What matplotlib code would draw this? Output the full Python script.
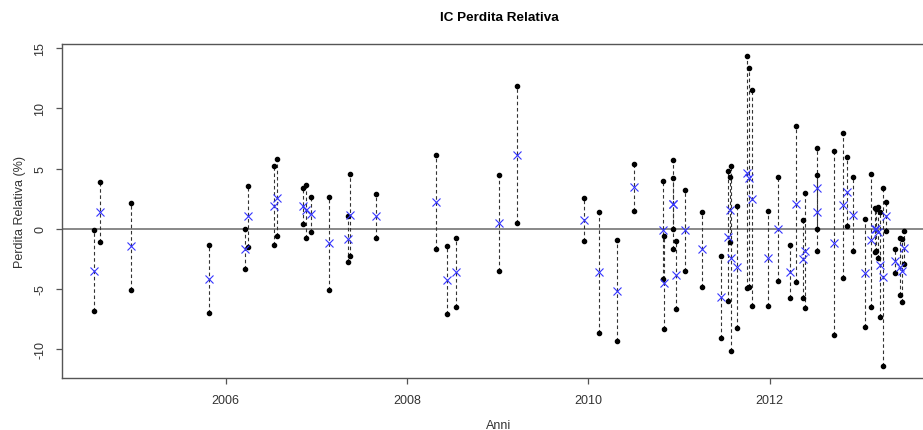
import numpy as np
import matplotlib
matplotlib.use("Agg")
import matplotlib.pyplot as plt

plt.rcParams['font.family'] = ['Liberation Sans', 'DejaVu Sans']

# decimal year of each interval
anni = [2004.55, 2004.61, 2004.95, 2005.81, 2006.21, 2006.25, 2006.53, 2006.57,
        2006.85, 2006.89, 2006.94, 2007.14, 2007.35, 2007.37, 2007.66, 2008.32,
        2008.44, 2008.54, 2009.01, 2009.21, 2009.95, 2010.12, 2010.32, 2010.51,
        2010.82, 2010.84, 2010.93, 2010.935, 2010.97, 2011.07, 2011.25, 2011.47,
        2011.54, 2011.56, 2011.58, 2011.64, 2011.75, 2011.77, 2011.81, 2011.98,
        2012.09, 2012.23, 2012.29, 2012.37, 2012.39, 2012.52, 2012.525, 2012.71,
        2012.81, 2012.85, 2012.92, 2013.05, 2013.12, 2013.16, 2013.17, 2013.20,
        2013.22, 2013.25, 2013.29, 2013.38, 2013.44, 2013.46, 2013.48]

# lower / upper bound of the interval (%)
inf = [-6.83, -1.06, -5.06, -7.00, -3.31, -1.50, -1.39, -0.58,
       0.36, -0.80, -0.30, -5.06, -2.78, -2.25, -0.80, -1.67,
       -7.11, -6.47, -3.50, 0.50, -1.03, -8.64, -9.33, 1.47,
       -4.19, -8.36, -1.67, -0.06, -6.67, -3.50, -4.83, -9.08,
       -6.00, -1.14, -10.19, -8.28, -4.94, -4.83, -6.39, -6.39,
       -4.36, -5.75, -4.42, -5.72, -6.58, 0.00, -1.83, -8.81,
       -4.08, 0.19, -1.89, -8.17, -6.47, -1.94, -1.83, -2.39,
       -7.33, -11.39, -0.17, -3.67, -5.53, -6.06, -2.92]
sup = [-0.08, 3.89, 2.14, -1.39, -0.06, 3.53, 5.19, 5.78,
       3.42, 3.67, 2.67, 2.67, 1.08, 4.53, 2.89, 6.11,
       -1.44, -0.80, 4.47, 11.86, 2.53, 1.42, -0.97, 5.39,
       4.00, -0.64, 5.69, 4.22, -1.03, 3.25, 1.42, -2.25,
       4.78, 4.33, 5.22, 1.89, 14.31, 13.33, 11.50, 1.44,
       4.31, -1.31, 8.56, 0.75, 2.94, 6.72, 4.47, 6.42,
       7.94, 5.94, 4.31, 0.78, 4.53, 1.75, 1.67, 1.81,
       1.42, 3.36, 2.19, -1.67, -0.78, -0.83, -0.22]

# point estimate (%)
stima = [-3.47, 1.42, -1.47, -4.14, -1.69, 1.03, 1.92, 2.58,
         1.92, 1.53, 1.19, -1.17, -0.85, 1.11, 1.06, 2.19,
         -4.28, -3.61, 0.47, 6.14, 0.75, -3.61, -5.14, 3.44,
         -0.08, -4.47, 2.03, 2.06, -3.83, -0.14, -1.72, -5.67,
         -0.67, 1.56, -2.47, -3.19, 4.64, 4.22, 2.50, -2.47,
         0.00, -3.56, 2.03, -2.50, -1.81, 3.42, 1.36, -1.22,
         1.94, 3.08, 1.17, -3.69, -0.94, -0.06, -0.06, -0.29,
         -2.97, -3.97, 1.06, -2.64, -3.14, -3.47, -1.56]

anni = np.array(anni)
inf = np.array(inf)
sup = np.array(sup)
stima = np.array(stima)

fig = plt.figure(figsize=(9.23, 4.31), dpi=100)
# plot region runs a bit past the right edge of the page
ax = fig.add_axes([62 / 923, 51.7 / 431, 874 / 923, 334.3 / 431])

ax.axhline(0, color='#888888', lw=1.4, zorder=1)
ax.vlines(anni, inf, sup, colors='#333333', linestyles=(0, (3.2, 2.4)), lw=0.8, zorder=2)
ax.plot(anni, inf, 'o', color='black', ms=3.0, zorder=3)
ax.plot(anni, sup, 'o', color='black', ms=3.0, zorder=3)
ax.plot(anni, stima, 'x', color='#3535ff', ms=5.3, mew=0.8, zorder=4)

# R-style 4% padding
xr = anni.max() - anni.min()
yr = sup.max() - inf.min()
ax.set_xlim(anni.min() - 0.04 * xr, anni.max() + 0.04 * xr)
ax.set_ylim(inf.min() - 0.04 * yr, sup.max() + 0.04 * yr)

ax.set_xticks([2006, 2008, 2010, 2012])
ax.set_xticklabels(['2006', '2008', '2010', '2012'])
ax.set_yticks([-10, -5, 0, 5, 10, 15])
ax.set_yticklabels(['-10', '-5', '0', '5', '10', '15'], rotation=90, va='center')

for s in ax.spines.values():
    s.set_color('#555555')
    s.set_linewidth(1.0)
ax.tick_params(direction='out', length=4.5, width=0.9, color='#555555',
               labelsize=9, labelcolor='#333333', pad=7)

ax.set_xlabel('Anni', fontsize=9, color='#333333', labelpad=9)
ax.set_ylabel('Perdita Relativa (%)', fontsize=9, color='#333333', labelpad=6)
ax.set_title('IC Perdita Relativa', fontsize=9.7, fontweight='bold', pad=17)

fig.savefig('out.png', dpi=100)
